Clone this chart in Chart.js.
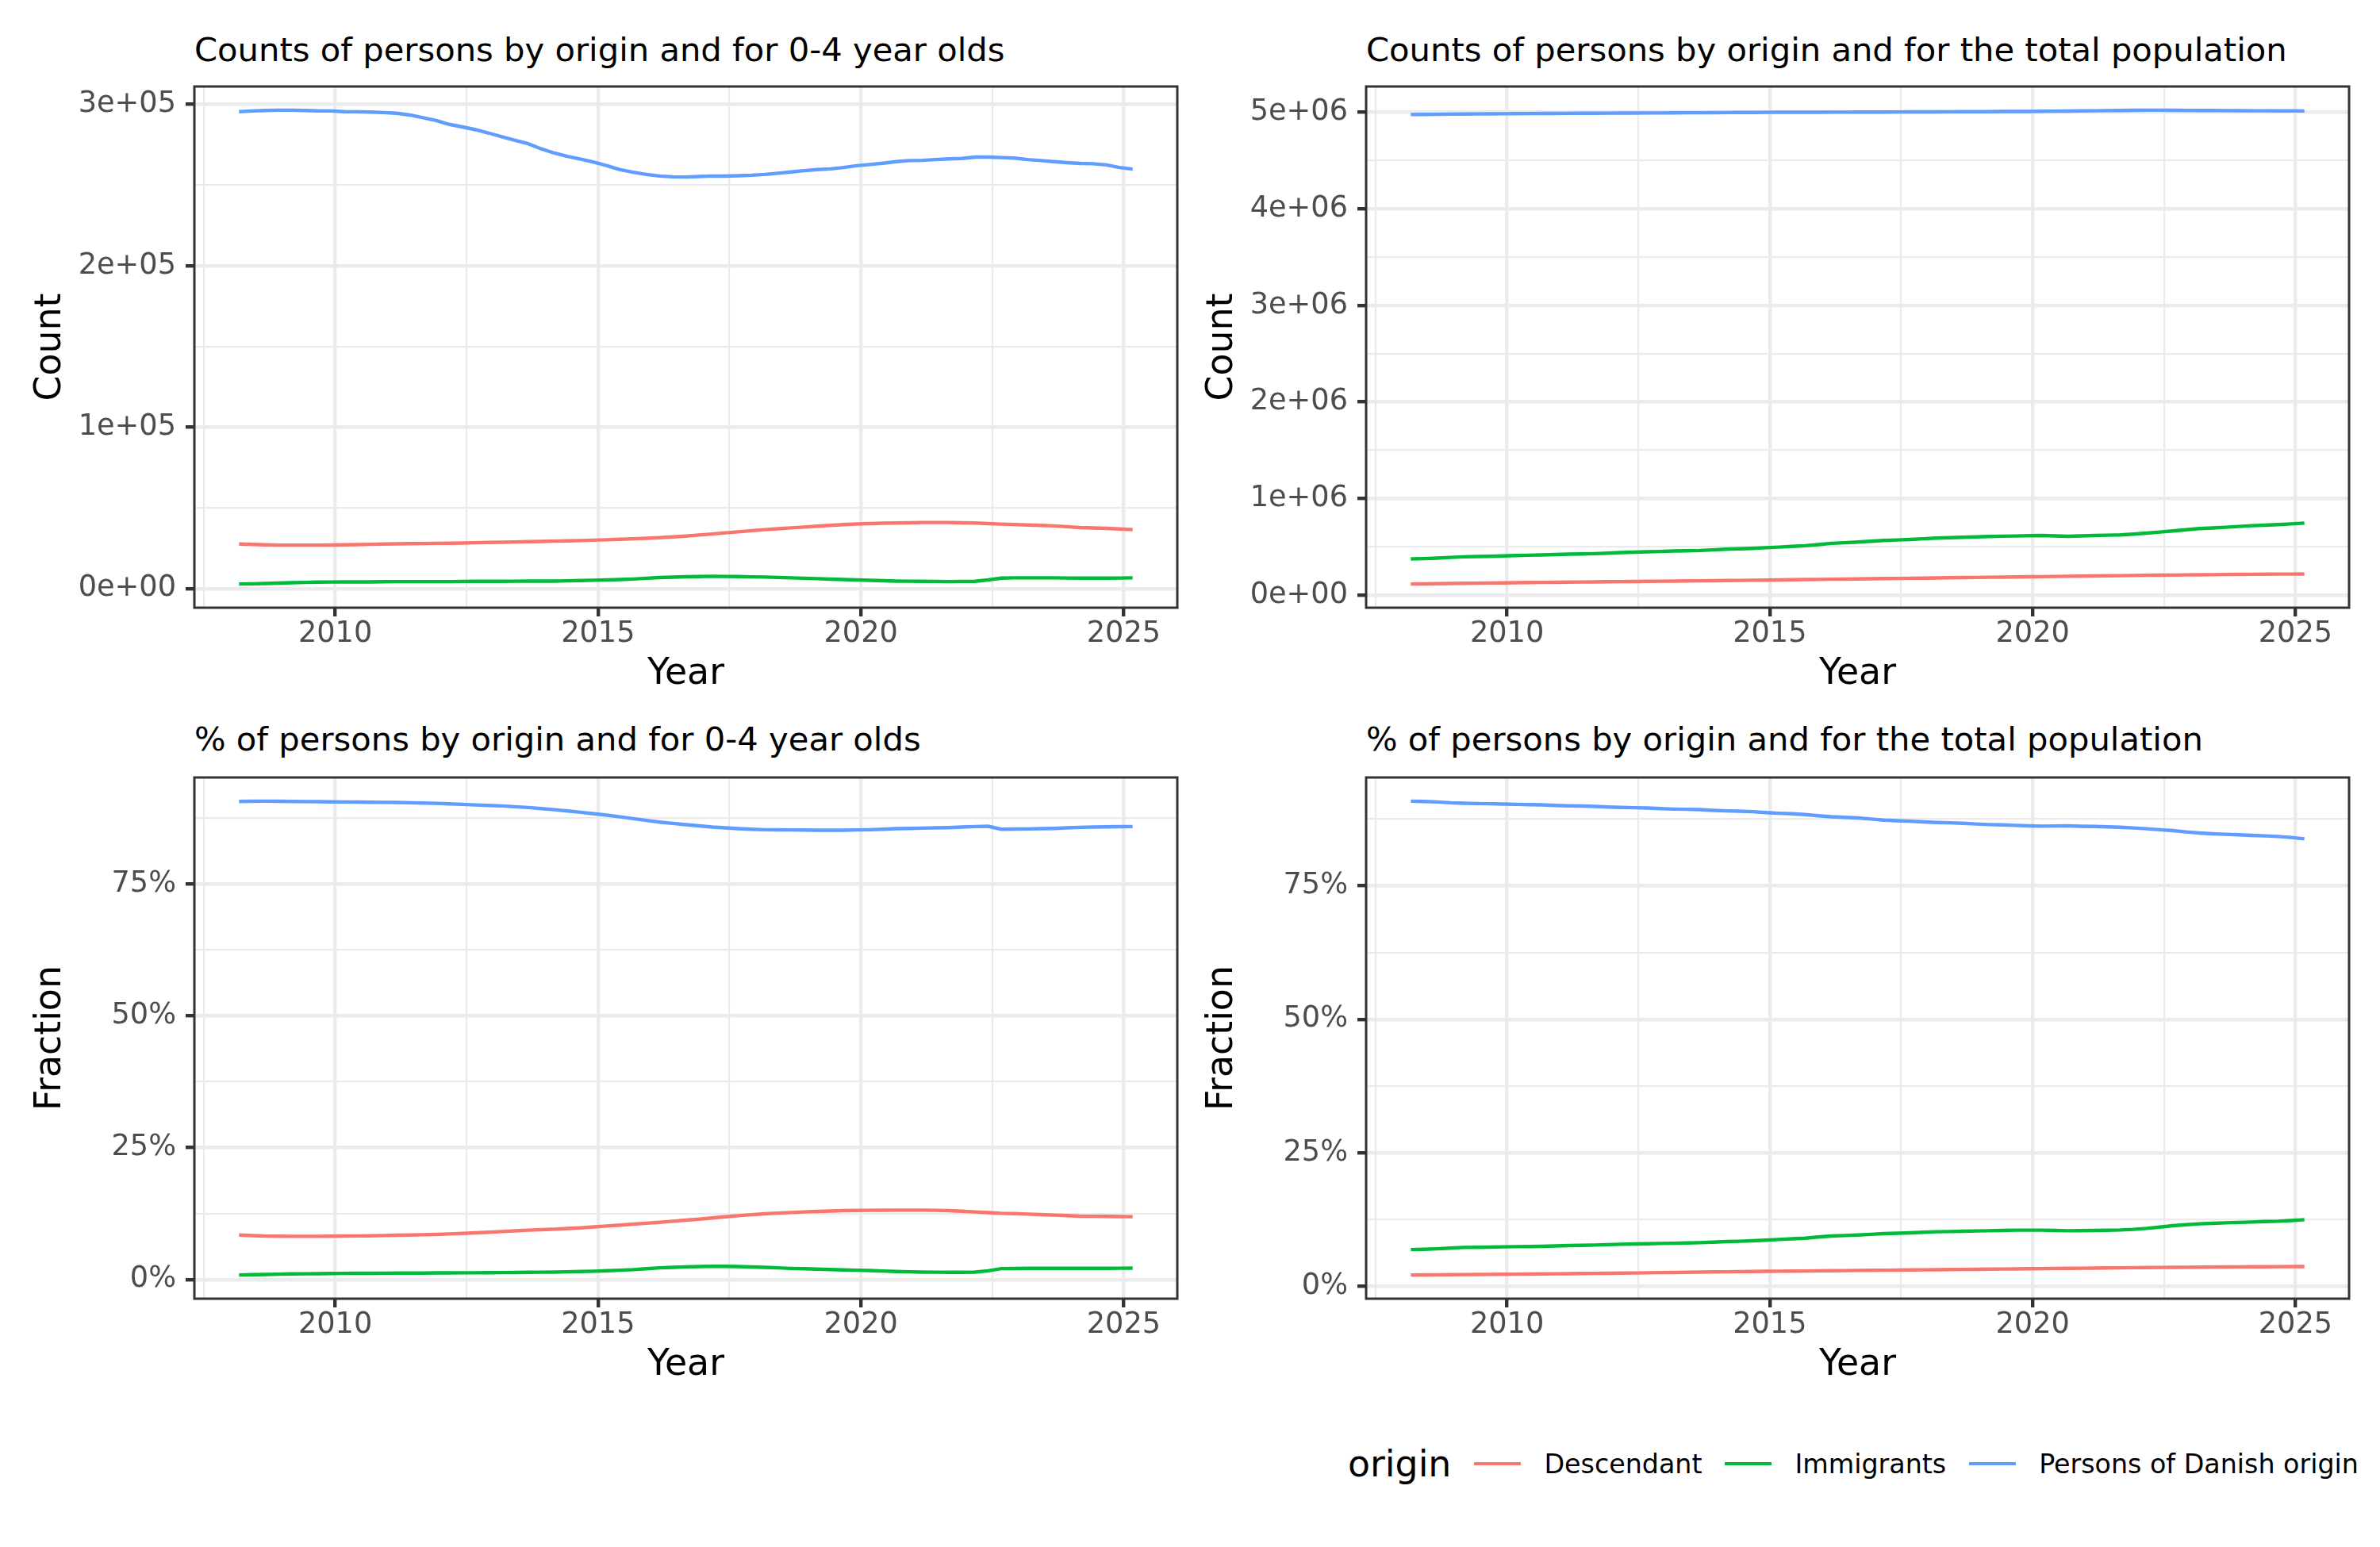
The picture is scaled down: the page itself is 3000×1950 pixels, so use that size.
<!DOCTYPE html>
<html>
<head>
<meta charset="utf-8">
<script src="https://cdn.jsdelivr.net/npm/chart.js@4.4.1/dist/chart.umd.min.js"></script>
<style>
    html, body { margin: 0; padding: 0; background: #ffffff; }
    body { width: 3000px; height: 1950px; position: relative; overflow: hidden; font-family: "DejaVu Sans", sans-serif; }
    .panel { position: absolute; width: 1500px; height: 800px; }
    .titulo { position: absolute; font-size: 41.7px; line-height: 1; color: #000000; white-space: nowrap; }
    .leyenda { position: absolute; left: 1699px; top: 1815px; height: 60px; display: flex; align-items: center; white-space: nowrap; }
    .leyenda .nombre { font-size: 45.8px; color: #000000; }
    .leyenda .clave { width: 59px; height: 4.4px; margin-left: 29px; }
    .leyenda .texto { font-size: 33.3px; color: #000000; margin-left: 29px; }
</style>
</head>
<body>
<div class="titulo" style="left:245px;top:42px">Counts of persons by origin and for 0-4 year olds</div>
<div class="titulo" style="left:1722px;top:42px">Counts of persons by origin and for the total population</div>
<div class="titulo" style="left:245px;top:911px">% of persons by origin and for 0-4 year olds</div>
<div class="titulo" style="left:1722px;top:911px">% of persons by origin and for the total population</div>

<div class="panel" style="left:0px;top:90px"><canvas id="grafico1" width="1500" height="800"></canvas></div>
<div class="panel" style="left:1477px;top:90px"><canvas id="grafico2" width="1500" height="800"></canvas></div>
<div class="panel" style="left:0px;top:961px"><canvas id="grafico3" width="1500" height="800"></canvas></div>
<div class="panel" style="left:1477px;top:961px"><canvas id="grafico4" width="1500" height="800"></canvas></div>

<div class="leyenda" id="leyenda"><span class="nombre">origin</span></div>

<script>
// DATOS
const origenes = ['Descendant', 'Immigrants', 'Persons of Danish origin'];
const colores = ['#F8766D', '#00BA38', '#619CFF'];

const trimestres = [
    '2008Q1', '2008Q2', '2008Q3', '2008Q4', '2009Q1', '2009Q2', '2009Q3', '2009Q4', '2010Q1', '2010Q2',
    '2010Q3', '2010Q4', '2011Q1', '2011Q2', '2011Q3', '2011Q4', '2012Q1', '2012Q2', '2012Q3', '2012Q4',
    '2013Q1', '2013Q2', '2013Q3', '2013Q4', '2014Q1', '2014Q2', '2014Q3', '2014Q4', '2015Q1', '2015Q2',
    '2015Q3', '2015Q4', '2016Q1', '2016Q2', '2016Q3', '2016Q4', '2017Q1', '2017Q2', '2017Q3', '2017Q4',
    '2018Q1', '2018Q2', '2018Q3', '2018Q4', '2019Q1', '2019Q2', '2019Q3', '2019Q4', '2020Q1', '2020Q2',
    '2020Q3', '2020Q4', '2021Q1', '2021Q2', '2021Q3', '2021Q4', '2022Q1', '2022Q2', '2022Q3', '2022Q4',
    '2023Q1', '2023Q2', '2023Q3', '2023Q4', '2024Q1', '2024Q2', '2024Q3', '2024Q4', '2025Q1'
];

// Counts, 0-4 year olds
const conteoDescendientes04 = [
    27550, 27300, 27060, 26900, 26900, 26900, 26900, 26950, 27060, 27200,
    27390, 27550, 27720, 27800, 27900, 27980, 28050, 28200, 28380, 28550,
    28700, 28870, 29040, 29200, 29370, 29530, 29700, 29950, 30200, 30500,
    30850, 31150, 31500, 32000, 32500, 33150, 33800, 34500, 35150, 35850,
    36500, 37050, 37600, 38100, 38600, 39100, 39600, 39950, 40260, 40450,
    40600, 40750, 40900, 40900, 40900, 40750, 40600, 40250, 39900, 39650,
    39400, 39100, 38800, 38300, 37800, 37550, 37300, 36900, 36500
];
const conteoInmigrantes04 = [
    2800, 2950, 3100, 3350, 3600, 3800, 4000, 4050, 4100, 4100,
    4100, 4200, 4300, 4300, 4300, 4300, 4300, 4380, 4450, 4450,
    4450, 4520, 4600, 4600, 4600, 4780, 4950, 5120, 5300, 5600,
    5900, 6350, 6800, 7030, 7260, 7430, 7600, 7500, 7400, 7250,
    7100, 6850, 6600, 6350, 6100, 5850, 5600, 5350, 5100, 4850,
    4600, 4520, 4450, 4380, 4300, 4380, 4450, 5300, 6400, 6600,
    6600, 6600, 6600, 6500, 6450, 6450, 6450, 6500, 6600
];
const conteoDaneses04 = [
    295500, 295900, 296200, 296400, 296400, 296200, 296000, 295900, 295500, 295400,
    295200, 294900, 294500, 293400, 291750, 290000, 287600, 286000, 284300, 282200,
    279900, 277700, 275600, 272400, 269800, 267800, 266000, 264200, 262000, 259500,
    257900, 256600, 255600, 255100, 255000, 255300, 255600, 255500, 255800, 256100,
    256600, 257300, 258100, 258900, 259600, 260000, 260900, 262000, 262700, 263500,
    264500, 265200, 265300, 265800, 266200, 266500, 267300, 267300, 267000, 266700,
    265800, 265200, 264500, 263900, 263400, 263200, 262500, 260900, 259900
];

// Counts, total population
const conteoDescendientesTotal = [
    114700, 116400, 118100, 119800, 121500, 123200, 124900, 126600, 128400, 129700,
    131100, 132500, 133900, 135200, 136600, 137900, 139300, 140700, 142000, 143400,
    144800, 146100, 147500, 148900, 150300, 152000, 153700, 155400, 157100, 158800,
    160500, 162200, 163900, 165600, 167300, 169000, 170700, 172400, 174100, 175800,
    177600, 179300, 181000, 182700, 184400, 186100, 187800, 189500, 191200, 192900,
    194600, 196300, 198000, 199700, 201400, 203100, 204900, 206200, 207600, 209000,
    210300, 211700, 213000, 214400, 215800, 216500, 217200, 217900, 218600
];
const conteoInmigrantesTotal = [
    374300, 378000, 382500, 390000, 396100, 399000, 401600, 405000, 409800, 412500,
    415300, 419500, 423500, 426000, 428900, 434500, 439900, 444000, 448000, 452000,
    456200, 459000, 461700, 468500, 475400, 479500, 483600, 490500, 497200, 503500,
    510900, 523000, 535500, 542000, 549100, 557500, 565500, 571000, 576500, 583500,
    590100, 594500, 598300, 602500, 606500, 609500, 612000, 615000, 617400, 613000,
    609200, 613500, 617400, 620000, 622900, 631000, 642000, 652500, 663900, 677000,
    688500, 695500, 702100, 710500, 718500, 724000, 729400, 737500, 745800
];
const conteoDanesesTotal = [
    4977000, 4978000, 4979000, 4980500, 4982000, 4983000, 4984000, 4985000, 4986000, 4987000,
    4987500, 4988000, 4989000, 4990000, 4990500, 4991000, 4992000, 4992500, 4993000, 4993500,
    4994000, 4995000, 4995500, 4996000, 4997000, 4998000, 4998500, 4999000, 5000000, 5000200,
    5000500, 5000800, 5001000, 5001500, 5002000, 5002500, 5003000, 5003500, 5004000, 5004500,
    5005000, 5005500, 5006000, 5006500, 5007000, 5008000, 5008500, 5009000, 5010000, 5011500,
    5013000, 5014500, 5016000, 5017500, 5019000, 5020500, 5022000, 5021500, 5021000, 5020000,
    5019000, 5018500, 5018000, 5017000, 5016000, 5015500, 5015000, 5014500, 5014000
];

// Fraction (%), 0-4 year olds
const fraccionDescendientes04 = [
    8.43, 8.32, 8.23, 8.2, 8.18, 8.18, 8.18, 8.2, 8.23, 8.25,
    8.28, 8.33, 8.38, 8.43, 8.48, 8.55, 8.63, 8.73, 8.83, 8.96,
    9.09, 9.22, 9.34, 9.44, 9.54, 9.66, 9.79, 9.96, 10.14, 10.31,
    10.49, 10.66, 10.84, 11.04, 11.24, 11.44, 11.65, 11.88, 12.1, 12.28,
    12.45, 12.58, 12.7, 12.8, 12.9, 12.98, 13.05, 13.08, 13.1, 13.13,
    13.15, 13.15, 13.15, 13.1, 13.05, 12.93, 12.8, 12.68, 12.55, 12.48,
    12.4, 12.3, 12.2, 12.1, 12.0, 11.98, 11.95, 11.92, 11.9
];
const fraccionInmigrantes04 = [
    0.85, 0.9, 0.95, 1.0, 1.05, 1.08, 1.1, 1.13, 1.15, 1.16,
    1.18, 1.19, 1.2, 1.21, 1.22, 1.24, 1.25, 1.26, 1.27, 1.29,
    1.3, 1.33, 1.35, 1.38, 1.4, 1.45, 1.5, 1.57, 1.65, 1.75,
    1.86, 2.03, 2.2, 2.3, 2.4, 2.45, 2.5, 2.48, 2.45, 2.38,
    2.3, 2.2, 2.1, 2.03, 1.96, 1.88, 1.8, 1.75, 1.7, 1.6,
    1.5, 1.45, 1.4, 1.38, 1.35, 1.37, 1.4, 1.65, 2.05, 2.08,
    2.1, 2.1, 2.1, 2.1, 2.1, 2.11, 2.12, 2.13, 2.15
];
const fraccionDaneses04 = [
    90.61, 90.64, 90.66, 90.63, 90.61, 90.58, 90.56, 90.53, 90.51, 90.48,
    90.46, 90.43, 90.41, 90.36, 90.31, 90.24, 90.16, 90.06, 89.95, 89.85,
    89.75, 89.6, 89.45, 89.25, 89.05, 88.8, 88.55, 88.28, 88.0, 87.68,
    87.35, 87.02, 86.7, 86.45, 86.2, 85.98, 85.75, 85.6, 85.45, 85.35,
    85.25, 85.22, 85.2, 85.18, 85.15, 85.15, 85.15, 85.2, 85.25, 85.35,
    85.45, 85.5, 85.55, 85.6, 85.65, 85.75, 85.85, 85.9, 85.35, 85.38,
    85.4, 85.45, 85.5, 85.6, 85.7, 85.75, 85.8, 85.82, 85.85
];

// Fraction (%), total population
const fraccionDescendientesTotal = [
    2.13, 2.15, 2.17, 2.19, 2.2, 2.22, 2.24, 2.26, 2.28, 2.3,
    2.33, 2.35, 2.38, 2.4, 2.43, 2.45, 2.48, 2.51, 2.54, 2.57,
    2.6, 2.64, 2.67, 2.7, 2.73, 2.76, 2.78, 2.81, 2.83, 2.86,
    2.88, 2.91, 2.93, 2.95, 2.98, 3.0, 3.03, 3.05, 3.07, 3.1,
    3.12, 3.15, 3.17, 3.2, 3.22, 3.25, 3.27, 3.3, 3.32, 3.35,
    3.37, 3.4, 3.42, 3.45, 3.47, 3.5, 3.52, 3.54, 3.56, 3.58,
    3.6, 3.62, 3.63, 3.65, 3.67, 3.68, 3.69, 3.71, 3.72
];
const fraccionInmigrantesTotal = [
    6.89, 6.95, 7.04, 7.17, 7.29, 7.31, 7.34, 7.4, 7.44, 7.46,
    7.49, 7.57, 7.64, 7.68, 7.74, 7.82, 7.89, 7.94, 7.99, 8.03,
    8.08, 8.12, 8.18, 8.28, 8.38, 8.45, 8.53, 8.65, 8.78, 8.9,
    9.03, 9.25, 9.42, 9.52, 9.62, 9.75, 9.87, 9.95, 10.02, 10.13,
    10.22, 10.27, 10.32, 10.37, 10.42, 10.47, 10.52, 10.53, 10.52, 10.46,
    10.42, 10.44, 10.47, 10.51, 10.56, 10.68, 10.86, 11.1, 11.36, 11.55,
    11.71, 11.8, 11.9, 11.97, 12.05, 12.13, 12.2, 12.33, 12.5
];
const fraccionDanesesTotal = [
    90.85, 90.8, 90.7, 90.55, 90.46, 90.4, 90.36, 90.3, 90.26, 90.2,
    90.16, 90.05, 89.97, 89.93, 89.87, 89.75, 89.67, 89.62, 89.57, 89.45,
    89.37, 89.33, 89.27, 89.13, 89.03, 88.97, 88.88, 88.72, 88.58, 88.48,
    88.34, 88.12, 87.94, 87.83, 87.7, 87.5, 87.3, 87.2, 87.1, 86.96,
    86.86, 86.8, 86.71, 86.57, 86.46, 86.4, 86.32, 86.22, 86.17, 86.2,
    86.22, 86.16, 86.12, 86.05, 85.97, 85.84, 85.68, 85.5, 85.33, 85.1,
    84.89, 84.75, 84.64, 84.55, 84.44, 84.35, 84.24, 84.05, 83.8
];

// TICKS
const ticksX = [2010, 2015, 2020, 2025];
const ticksXMenores = [2007.5, 2012.5, 2017.5, 2022.5];
const ticksConteo04 = [0, 100000, 200000, 300000];
const etiquetasConteo04 = ['0e+00', '1e+05', '2e+05', '3e+05'];
const ticksConteo04Menores = [50000, 150000, 250000];
const ticksConteoTotal = [0, 1000000, 2000000, 3000000, 4000000, 5000000];
const etiquetasConteoTotal = ['0e+00', '1e+06', '2e+06', '3e+06', '4e+06', '5e+06'];
const ticksConteoTotalMenores = [500000, 1500000, 2500000, 3500000, 4500000];
const ticksFraccion = [0, 25, 50, 75];
const etiquetasFraccion = ['0%', '25%', '50%', '75%'];
const ticksFraccionMenores = [12.5, 37.5, 62.5, 87.5];

// posicion de cada trimestre en el eje de anios
const anios = trimestres.map(t => Number(t.slice(0, 4)) + (Number(t.slice(5)) - 1) / 4 + 0.17);

const fuente = 'DejaVu Sans';

const bordePanel = {
    id: 'bordePanel',
    afterDatasetsDraw(chart) {
        const { ctx, chartArea } = chart;
        ctx.save();
        ctx.strokeStyle = '#333333';
        ctx.lineWidth = 3;
        ctx.strokeRect(chartArea.left, chartArea.top, chartArea.right - chartArea.left, chartArea.bottom - chartArea.top);
        ctx.restore();
    }
};

function graficar(id, series, ticksY, etiquetasY, menoresY, tituloY) {
    const todos = [].concat(...series);
    const minY = Math.min(...todos);
    const maxY = Math.max(...todos);
    const margenY = (maxY - minY) * 0.05;
    const minX = anios[0];
    const maxX = anios[anios.length - 1];
    const margenX = (maxX - minX) * 0.05;

    const datasets = series.map((serie, k) => ({
        label: origenes[k],
        data: serie.map((v, i) => ({ x: anios[i], y: v })),
        borderColor: colores[k],
        backgroundColor: colores[k],
        borderWidth: 4.4,
        pointRadius: 0,
        tension: 0,
        fill: false
    }));

    const todosX = ticksXMenores.concat(ticksX).sort((a, b) => a - b);
    const todosY = menoresY.concat(ticksY).sort((a, b) => a - b);

    const configuracion = {
        type: 'line',
        data: { datasets: datasets },
        options: {
            responsive: false,
            devicePixelRatio: 1,
            animation: false,
            layout: { padding: { top: 19, right: 16, bottom: 0, left: 0 } },
            plugins: { legend: { display: false }, tooltip: { enabled: false } },
            scales: {
                x: {
                    type: 'linear',
                    min: minX - margenX,
                    max: maxX + margenX,
                    afterBuildTicks: s => { s.ticks = todosX.map(v => ({ value: v })); },
                    afterFit: s => { s.height = 124; s.paddingLeft = 0; s.paddingRight = 0; },
                    border: { display: false },
                    grid: {
                        color: '#EBEBEB',
                        lineWidth: c => (c.tick && ticksX.includes(c.tick.value)) ? 4.4 : 2.2,
                        tickLength: 11,
                        tickWidth: 4.4,
                        tickColor: c => (c.tick && ticksX.includes(c.tick.value)) ? '#333333' : 'rgba(0,0,0,0)'
                    },
                    ticks: {
                        autoSkip: false,
                        maxRotation: 0,
                        padding: 0,
                        color: '#4D4D4D',
                        font: { family: fuente, size: 36.7 },
                        callback: v => ticksX.includes(v) ? String(v) : ''
                    },
                    title: {
                        display: true,
                        text: 'Year',
                        color: '#000000',
                        font: { family: fuente, size: 45.8, lineHeight: 1.2 },
                        padding: { top: 0, bottom: 12 }
                    }
                },
                y: {
                    type: 'linear',
                    min: minY - margenY,
                    max: maxY + margenY,
                    afterBuildTicks: s => { s.ticks = todosY.map(v => ({ value: v })); },
                    afterFit: s => { s.width = 245; s.paddingTop = 0; s.paddingBottom = 0; },
                    border: { display: false },
                    grid: {
                        color: '#EBEBEB',
                        lineWidth: c => (c.tick && ticksY.includes(c.tick.value)) ? 4.4 : 2.2,
                        tickLength: 11,
                        tickWidth: 4.4,
                        tickColor: c => (c.tick && ticksY.includes(c.tick.value)) ? '#333333' : 'rgba(0,0,0,0)'
                    },
                    ticks: {
                        autoSkip: false,
                        padding: 12,
                        color: '#4D4D4D',
                        font: { family: fuente, size: 36.7 },
                        callback: v => {
                            const k = ticksY.indexOf(v);
                            return k >= 0 ? etiquetasY[k] : '';
                        }
                    },
                    title: {
                        display: true,
                        text: tituloY,
                        color: '#000000',
                        font: { family: fuente, size: 45.8, lineHeight: 1.2 },
                        padding: { top: 37, bottom: 0 }
                    }
                }
            }
        },
        plugins: [bordePanel]
    };
    return new Chart(document.getElementById(id).getContext('2d'), configuracion);
}

graficar('grafico1', [conteoDescendientes04, conteoInmigrantes04, conteoDaneses04],
    ticksConteo04, etiquetasConteo04, ticksConteo04Menores, 'Count');
graficar('grafico2', [conteoDescendientesTotal, conteoInmigrantesTotal, conteoDanesesTotal],
    ticksConteoTotal, etiquetasConteoTotal, ticksConteoTotalMenores, 'Count');
graficar('grafico3', [fraccionDescendientes04, fraccionInmigrantes04, fraccionDaneses04],
    ticksFraccion, etiquetasFraccion, ticksFraccionMenores, 'Fraction');
graficar('grafico4', [fraccionDescendientesTotal, fraccionInmigrantesTotal, fraccionDanesesTotal],
    ticksFraccion, etiquetasFraccion, ticksFraccionMenores, 'Fraction');

// LEYENDA
const leyenda = document.getElementById('leyenda');
origenes.forEach((nombre, k) => {
    const clave = document.createElement('span');
    clave.className = 'clave';
    clave.style.background = colores[k];
    leyenda.appendChild(clave);
    const texto = document.createElement('span');
    texto.className = 'texto';
    texto.textContent = nombre;
    leyenda.appendChild(texto);
});
</script>
</body>
</html>
